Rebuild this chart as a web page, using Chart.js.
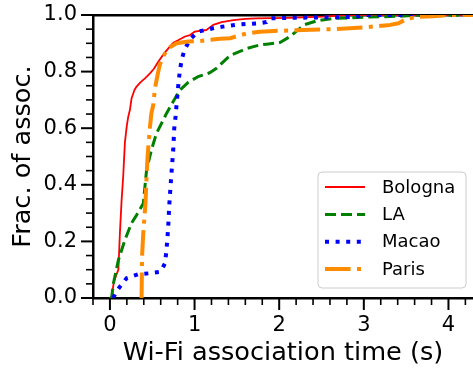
<!DOCTYPE html>
<html><head><meta charset="utf-8">
<script src="https://cdn.jsdelivr.net/npm/chart.js@4/dist/chart.umd.min.js"></script>
<style>html,body{margin:0;padding:0;background:#fff;overflow:hidden}#wrap{width:473px;height:370px;position:relative}</style>
</head><body><div id="wrap"><canvas id="c" width="473" height="370"></canvas></div>
<script>
const seriesNames = ['Bologna', 'LA', 'Macao', 'Paris'];

const bolognaX = [0, 0.02, 0.047, 0.08, 0.10, 0.118, 0.138, 0.157, 0.177, 0.20, 0.216, 0.236, 0.256, 0.29, 0.315, 0.36, 0.414, 0.473, 0.52, 0.571, 0.63, 0.69, 0.748, 0.80, 0.887, 0.946, 1.0, 1.14, 1.22, 1.32, 1.46, 1.6, 1.73, 2.12, 2.52, 2.8, 4.5];
const bolognaY = [0, 0.005, 0.058, 0.085, 0.10, 0.23, 0.346, 0.43, 0.55, 0.61, 0.64, 0.664, 0.706, 0.735, 0.747, 0.762, 0.776, 0.794, 0.81, 0.835, 0.86, 0.882, 0.902, 0.91, 0.924, 0.929, 0.941, 0.947, 0.965, 0.975, 0.982, 0.986, 0.988, 0.99, 0.994, 1.0, 1.0];

const laX = [0, 0.02, 0.04, 0.1, 0.177, 0.256, 0.315, 0.394, 0.433, 0.49, 0.55, 0.63, 0.67, 0.748, 0.827, 0.925, 1.04, 1.18, 1.26, 1.42, 1.62, 1.77, 1.85, 2.01, 2.13, 2.29, 2.44, 2.64, 3.0, 3.43, 3.7, 4.5];
const laY = [0, 0.0, 0.05, 0.134, 0.205, 0.265, 0.293, 0.334, 0.452, 0.523, 0.582, 0.629, 0.653, 0.694, 0.735, 0.762, 0.782, 0.796, 0.812, 0.857, 0.882, 0.894, 0.897, 0.903, 0.924, 0.965, 0.979, 0.988, 0.992, 0.996, 1.0, 1.0];

const macaoX = [0.04, 0.07, 0.118, 0.197, 0.335, 0.453, 0.59, 0.62, 0.65, 0.665, 0.678, 0.69, 0.70, 0.715, 0.73, 0.748, 0.76, 0.775, 0.787, 0.81, 0.825, 0.847, 0.88, 0.946, 1.04, 1.26, 1.50, 1.77, 1.85, 1.89, 2.13, 2.9, 3.0, 4.5];
const macaoY = [0, 0.02, 0.04, 0.07, 0.084, 0.087, 0.092, 0.105, 0.122, 0.16, 0.205, 0.26, 0.323, 0.39, 0.452, 0.523, 0.60, 0.64, 0.682, 0.759, 0.80, 0.841, 0.876, 0.914, 0.941, 0.956, 0.966, 0.971, 0.975, 0.988, 0.99, 0.993, 1.0, 1.0];

const parisX = [0.374, 0.38, 0.394, 0.414, 0.42, 0.433, 0.445, 0.473, 0.49, 0.512, 0.532, 0.571, 0.59, 0.63, 0.67, 0.709, 0.787, 0.925, 1.06, 1.30, 1.42, 1.58, 1.62, 1.77, 1.89, 2.28, 2.64, 3.03, 3.31, 3.41, 3.51, 3.66, 3.82, 4.0, 4.5];
const parisY = [0, 0.15, 0.23, 0.311, 0.334, 0.43, 0.50, 0.605, 0.653, 0.682, 0.741, 0.80, 0.825, 0.853, 0.875, 0.886, 0.90, 0.906, 0.908, 0.916, 0.918, 0.932, 0.935, 0.941, 0.943, 0.947, 0.95, 0.957, 0.965, 0.971, 0.987, 0.994, 0.996, 1.0, 1.0];

const xTickLabels = [0, 1, 2, 3, 4];
const yTickLabels = [0, 0.2, 0.4, 0.6, 0.8, 1.0];
const xTitle = 'Wi-Fi association time (s)';
const yTitle = 'Frac. of assoc.';

const FONT = "'DejaVu Sans', sans-serif";
const pts = (xs, ys) => xs.map((x, i) => ({x: x, y: ys[i]}));

const styles = [
  {color: '#ff0000', width: 1.8, dash: [], order: 4},
  {color: '#008000', width: 3, dash: [11, 5], order: 3},
  {color: '#0000ff', width: 4, dash: [4, 6.6], order: 2},
  {color: '#ff8c00', width: 4, dash: [25.6, 6.4, 4, 6.4], order: 1}
];
const seriesData = [pts(bolognaX, bolognaY), pts(laX, laY), pts(macaoX, macaoY), pts(parisX, parisY)];

const datasets = seriesNames.map((n, i) => ({
  label: n,
  data: seriesData[i],
  showLine: true,
  borderColor: styles[i].color,
  backgroundColor: styles[i].color,
  borderWidth: styles[i].width,
  borderDash: styles[i].dash,
  borderCapStyle: 'butt',
  borderJoinStyle: 'round',
  pointRadius: 0,
  pointHoverRadius: 0,
  tension: 0,
  fill: false,
  order: styles[i].order
}));

const X_MIN = -0.2, X_MAX = 4.29;
const noPad = s => { s.paddingTop = 0; s.paddingBottom = 0; s.paddingLeft = 0; s.paddingRight = 0; };

const tickPlugin = {
  id: 'mplTicks',
  afterDraw(chart) {
    const ctx = chart.ctx, a = chart.chartArea;
    const xs = chart.scales.x, ys = chart.scales.y;
    ctx.save();
    ctx.strokeStyle = '#000';
    ctx.lineCap = 'butt';
    for (let k = -1; k <= 22; k++) {
      const v = k * 0.2;
      const px = xs.getPixelForValue(v);
      if (px < a.left - 1 || px > a.right + 1) continue;
      const major = k % 5 === 0;
      ctx.lineWidth = major ? 2 : 1.6;
      ctx.beginPath();
      ctx.moveTo(px, a.bottom);
      ctx.lineTo(px, a.bottom + (major ? 12 : 7));
      ctx.stroke();
    }
    for (let k = 0; k <= 20; k++) {
      const v = k * 0.05;
      const py = ys.getPixelForValue(v);
      const major = k % 4 === 0;
      ctx.lineWidth = major ? 2 : 1.6;
      ctx.beginPath();
      ctx.moveTo(a.left, py);
      ctx.lineTo(a.left - (major ? 12 : 7), py);
      ctx.stroke();
    }
    const bx = 318, by = 172, bw = 148, bh = 116, r = 4;
    ctx.beginPath();
    ctx.moveTo(bx + r, by);
    ctx.arcTo(bx + bw, by, bx + bw, by + bh, r);
    ctx.arcTo(bx + bw, by + bh, bx, by + bh, r);
    ctx.arcTo(bx, by + bh, bx, by, r);
    ctx.arcTo(bx, by, bx + bw, by, r);
    ctx.closePath();
    ctx.fillStyle = 'rgba(255,255,255,0.8)';
    ctx.fill();
    ctx.lineWidth = 1;
    ctx.strokeStyle = '#cccccc';
    ctx.stroke();
    const rowY = [187, 214.5, 241.8, 269];
    ctx.font = '18px ' + FONT;
    ctx.textBaseline = 'middle';
    ctx.textAlign = 'left';
    chart.data.datasets.forEach((d, i) => {
      ctx.beginPath();
      ctx.setLineDash(d.borderDash);
      ctx.lineWidth = d.borderWidth;
      ctx.strokeStyle = d.borderColor;
      ctx.moveTo(325, rowY[i]);
      ctx.lineTo(365, rowY[i]);
      ctx.stroke();
      ctx.setLineDash([]);
      ctx.fillStyle = '#000';
      ctx.fillText(d.label, 382, rowY[i] + 1);
    });
    ctx.restore();
  }
};

new Chart(document.getElementById('c'), {
  type: 'scatter',
  data: {datasets: datasets},
  plugins: [tickPlugin],
  options: {
    responsive: false,
    animation: false,
    devicePixelRatio: 1,
    layout: {padding: 0},
    plugins: {legend: {display: false}, tooltip: {enabled: false}},
    scales: {
      x: {
        type: 'linear', position: 'bottom', min: X_MIN, max: X_MAX,
        afterBuildTicks: s => { s.ticks = xTickLabels.map(v => ({value: v})); },
        afterFit: s => { s.height = 72; noPad(s); },
        grid: {display: false, drawTicks: false},
        border: {display: true, color: '#000', width: 2.5},
        ticks: {color: '#000', font: {family: FONT, size: 21}, padding: 15, maxRotation: 0, autoSkip: false,
                callback: v => String(v)},
        title: {display: true, text: xTitle, color: '#000', font: {family: FONT, size: 25.6}, padding: {top: 0, bottom: 1}}
      },
      x2: {
        type: 'linear', position: 'top', min: X_MIN, max: X_MAX,
        afterFit: s => { s.height = 15; noPad(s); },
        grid: {display: false, drawTicks: false},
        border: {display: true, color: '#000', width: 2.5},
        ticks: {display: false}
      },
      y: {
        type: 'linear', position: 'left', min: 0, max: 1,
        afterBuildTicks: s => { s.ticks = yTickLabels.map(v => ({value: v})); },
        afterFit: s => { s.width = 93; noPad(s); },
        grid: {display: false, drawTicks: false},
        border: {display: true, color: '#000', width: 2.5},
        ticks: {color: '#000', font: {family: FONT, size: 21}, padding: 16,
                callback: v => Number(v).toFixed(1)},
        title: {display: true, text: yTitle, color: '#000', font: {family: FONT, size: 25.6}, padding: {top: 8, bottom: 0}}
      }
    }
  }
});
</script>
</body></html>
